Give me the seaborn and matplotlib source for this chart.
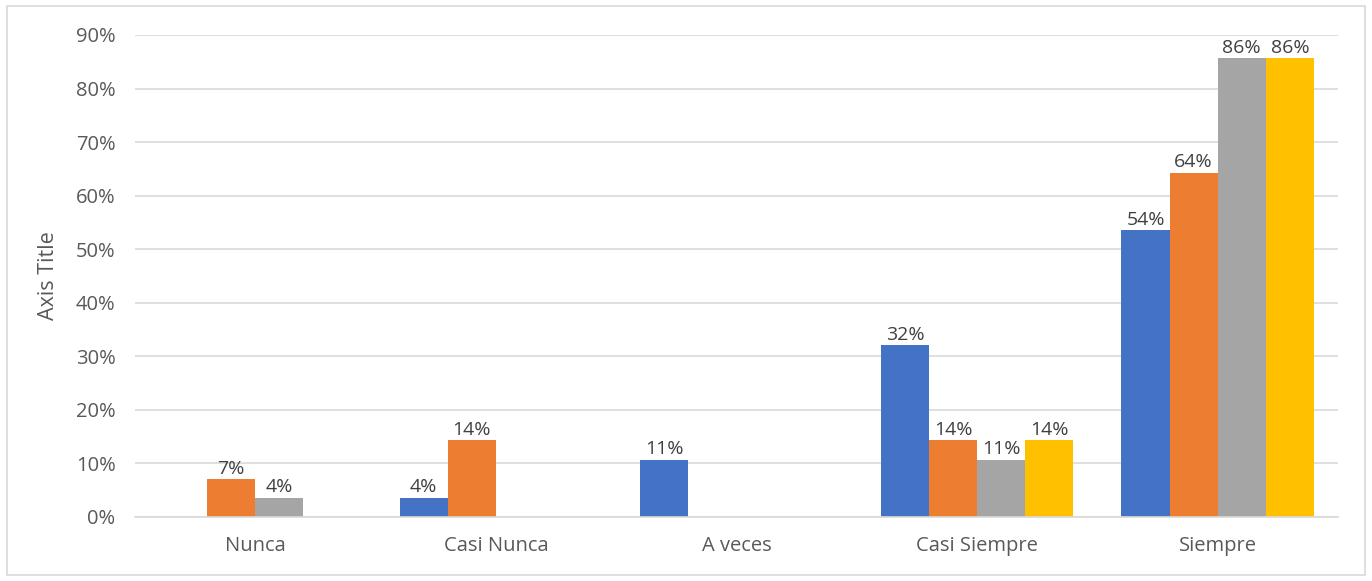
import numpy as np
import pandas as pd
import matplotlib
matplotlib.use("Agg")
import matplotlib.pyplot as plt
import seaborn as sns
from matplotlib.ticker import PercentFormatter

categories = ["Nunca", "Casi Nunca", "A veces", "Casi Siempre", "Siempre"]
series_names = ["Serie 1", "Serie 2", "Serie 3", "Serie 4"]
serie1 = [np.nan, 0.036, 0.107, 0.321, 0.536]
serie2 = [0.071, 0.143, np.nan, 0.143, 0.643]
serie3 = [0.036, np.nan, np.nan, 0.107, 0.857]
serie4 = [np.nan, np.nan, np.nan, 0.143, 0.857]
colors = ["#4472C4", "#ED7D31", "#A5A5A5", "#FFC000"]
y_ticks = [0, 0.1, 0.2, 0.3, 0.4, 0.5, 0.6, 0.7, 0.8, 0.9]

rows = []
for name, vals in zip(series_names, [serie1, serie2, serie3, serie4]):
    for cat, v in zip(categories, vals):
        rows.append({"cat": cat, "serie": name, "value": v})
df = pd.DataFrame(rows)

sns.set_theme(style="white")
plt.rcParams["font.family"] = ["Open Sans", "DejaVu Sans"]

fig = plt.figure(figsize=(13.72, 5.81), dpi=100)
ax = fig.add_axes([135 / 1372, 1 - 517 / 581, (1338 - 135) / 1372, (517 - 35) / 581])

sns.barplot(data=df, x="cat", y="value", hue="serie", order=categories,
            hue_order=series_names, palette=colors, width=0.8, gap=0,
            saturation=1, errorbar=None, legend=False, ax=ax,
            linewidth=0)

ax.set_ylim(0, 0.9)
ax.set_xlim(-0.5, len(categories) - 0.5)
ax.set_yticks(y_ticks)
ax.yaxis.set_major_formatter(PercentFormatter(1.0, decimals=0))
ax.yaxis.grid(True, color="#D9D9D9", linewidth=1.2)
ax.set_axisbelow(True)
for s in ["top", "right", "left"]:
    ax.spines[s].set_visible(False)
ax.spines["bottom"].set_color("#D9D9D9")
ax.spines["bottom"].set_linewidth(1.2)
ax.tick_params(axis="both", length=0, labelsize=14.5, colors="#595959")
ax.tick_params(axis="y", pad=14)
ax.tick_params(axis="x", pad=14)
ax.set_xlabel("")
ax.set_ylabel("Axis Title", fontsize=15.5, color="#595959", labelpad=12)

for cont in ax.containers:
    labels = []
    for b in cont:
        h = b.get_height()
        labels.append("" if (np.isnan(h) or h == 0) else f"{h:.0%}")
    ax.bar_label(cont, labels=labels, padding=1, fontsize=14, color="#404040")

border = matplotlib.patches.Rectangle((7 / 1372, 6 / 581), 1358 / 1372, 569 / 581,
                                      transform=fig.transFigure, fill=False,
                                      edgecolor="#D9D9D9", linewidth=1.2)
fig.patches.append(border)

fig.savefig("out.png", dpi=100)
